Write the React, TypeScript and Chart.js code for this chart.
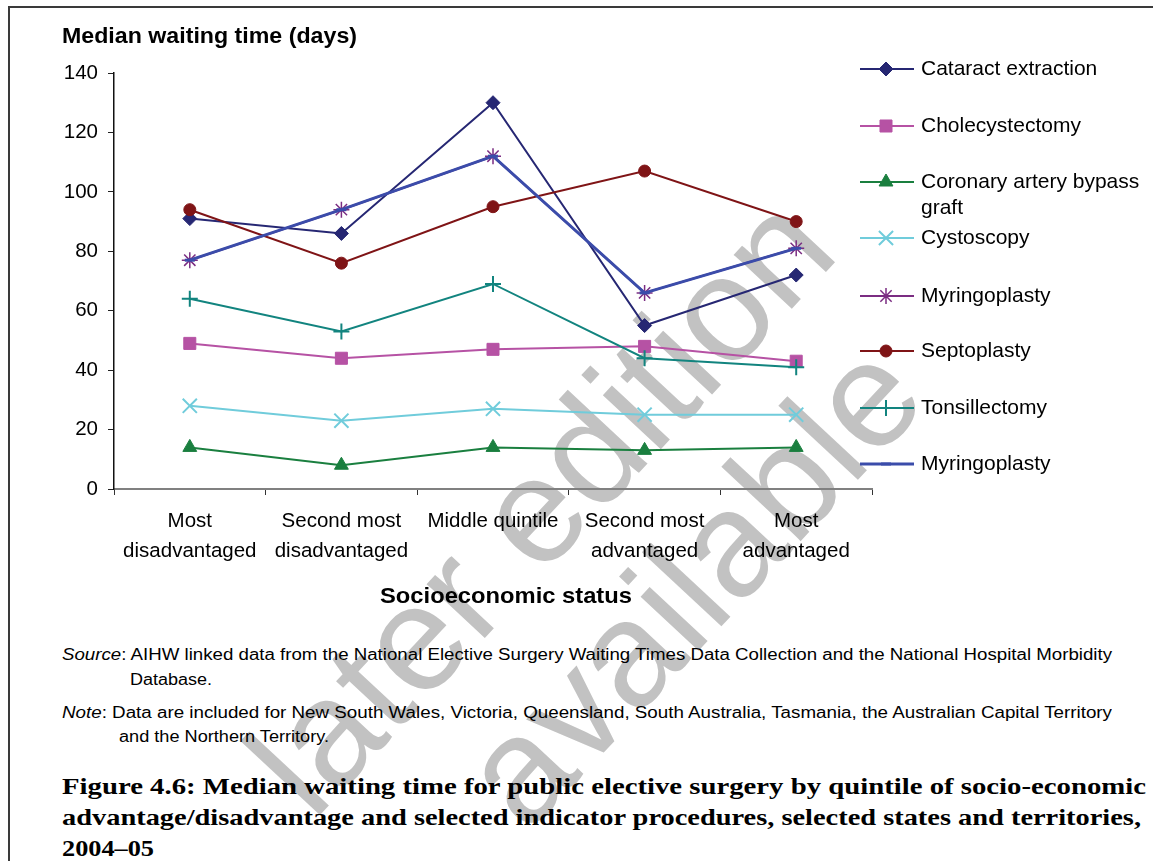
import React, { useEffect, useLayoutEffect, useRef } from 'react';
import { Chart, registerables } from 'chart.js';
import { drawPoint } from 'chart.js/helpers';

Chart.register(...registerables);

// ---------------- data ----------------
const categories: (string | string[])[] = [
  ['Most', 'disadvantaged'],
  ['Second most', 'disadvantaged'],
  'Middle quintile',
  ['Second most', 'advantaged'],
  ['Most', 'advantaged'],
];

const seriesNames = [
  'Cataract extraction',
  'Cholecystectomy',
  'Coronary artery bypass graft',
  'Cystoscopy',
  'Myringoplasty',
  'Septoplasty',
  'Tonsillectomy',
  'Myringoplasty',
];

const cataractExtraction = [91, 86, 130, 55, 72];
const cholecystectomy = [49, 44, 47, 48, 43];
const coronaryBypass = [14, 8, 14, 13, 14];
const cystoscopy = [28, 23, 27, 25, 25];
const myringoplasty = [77, 94, 112, 66, 81];
const septoplasty = [94, 76, 95, 107, 90];
const tonsillectomy = [64, 53, 69, 44, 41];
const myringoplasty2 = [77, 94, 112, 66, 81];

const yTicks = [0, 20, 40, 60, 80, 100, 120, 140];

const yTitle = 'Median waiting time (days)';
const xTitle = 'Socioeconomic status';

// ---------------- styles ----------------
const SANS = 'Arial, "Liberation Sans", sans-serif';
const SERIF = '"Liberation Serif", "Times New Roman", serif';

const seriesStyles = [
  { color: '#262773', pointStyle: 'rectRot', radius: 7, pbw: 1, lw: 2 },
  { color: '#B652A4', pointStyle: 'rect', radius: 8.5, pbw: 1, lw: 2 },
  { color: '#1A7F3F', pointStyle: 'triangle', radius: 8, pbw: 1, lw: 2 },
  { color: '#70CCDB', pointStyle: 'crossRot', radius: 10, pbw: 2, lw: 2 },
  { color: '#7B2D82', pointStyle: 'star', radius: 8, pbw: 1.5, lw: 2 },
  { color: '#7F1416', pointStyle: 'circle', radius: 6, pbw: 1, lw: 2 },
  { color: '#12847F', pointStyle: 'cross', radius: 8, pbw: 2, lw: 2 },
  { color: '#3B4CAA', pointStyle: 'line', radius: 5, pbw: 3, lw: 3 },
];

const seriesData = [
  cataractExtraction,
  cholecystectomy,
  coronaryBypass,
  cystoscopy,
  myringoplasty,
  septoplasty,
  tonsillectomy,
  myringoplasty2,
];

// legend layout (pixels in canvas)
const LEG_LINE_X0 = 860;
const LEG_LINE_X1 = 914;
const LEG_MARK_X = 886;
const LEG_TEXT_X = 921;
const LEG_ROWS = [69, 126, 182, 238, 296, 351, 408, 464];
const LEG_MAXW = 228;

const sideLegend = {
  id: 'sideLegend',
  afterDraw(chart: any) {
    const ctx = chart.ctx as CanvasRenderingContext2D;
    chart.data.datasets.forEach((ds: any, i: number) => {
      const y = LEG_ROWS[i];
      ctx.save();
      ctx.strokeStyle = ds.borderColor;
      ctx.lineWidth = ds.borderWidth;
      ctx.beginPath();
      ctx.moveTo(LEG_LINE_X0, y);
      ctx.lineTo(LEG_LINE_X1, y);
      ctx.stroke();
      ctx.fillStyle = ds.pointBackgroundColor;
      ctx.strokeStyle = ds.pointBorderColor;
      ctx.lineWidth = ds.pointBorderWidth;
      drawPoint(
        ctx,
        { pointStyle: ds.pointStyle, radius: ds.pointRadius, rotation: 0, borderWidth: ds.pointBorderWidth } as any,
        LEG_MARK_X,
        y
      );
      ctx.fillStyle = '#000';
      ctx.font = `21px ${SANS}`;
      ctx.textBaseline = 'middle';
      ctx.textAlign = 'left';
      // simple word wrap
      const words = String(ds.label).split(' ');
      const lines: string[] = [];
      let cur = '';
      words.forEach((w) => {
        const t = cur ? cur + ' ' + w : w;
        if (ctx.measureText(t).width > LEG_MAXW && cur) {
          lines.push(cur);
          cur = w;
        } else cur = t;
      });
      if (cur) lines.push(cur);
      lines.forEach((ln, k) => ctx.fillText(ln, LEG_TEXT_X, y + k * 26));
      ctx.restore();
    });
  },
};

function FitText(props: { x: number; y: number; w: number; size: number; family: string; weight?: string; ls?: number; children: any }) {
  const ref = useRef<HTMLSpanElement>(null);
  useLayoutEffect(() => {
    const el = ref.current;
    if (!el) return;
    el.style.transform = 'none';
    const nat = el.getBoundingClientRect().width;
    if (nat > 0) el.style.transform = `scaleX(${props.w / nat})`;
  }, [props.w]);
  // y is the text baseline
  return (
    <span
      ref={ref}
      style={{
        position: 'absolute',
        left: props.x,
        top: props.y - 0.8465 * props.size,
        whiteSpace: 'nowrap',
        transformOrigin: '0 50%',
        lineHeight: 1,
        fontSize: props.size,
        fontFamily: props.family,
        fontWeight: (props.weight as any) || 'normal',
        letterSpacing: props.ls ? props.ls : undefined,
        color: '#000',
      }}
    >
      {props.children}
    </span>
  );
}

function ChartCanvas() {
  const ref = useRef<HTMLCanvasElement>(null);
  useEffect(() => {
    if (!ref.current) return;
    const n = seriesData.length;
    const chart = new Chart(ref.current, {
      type: 'line',
      data: {
        labels: categories as any,
        datasets: seriesData.map((d, i) => {
          const s = seriesStyles[i];
          return {
            label: seriesNames[i],
            data: d,
            borderColor: s.color,
            backgroundColor: s.color,
            borderWidth: s.lw,
            pointStyle: s.pointStyle as any,
            pointRadius: s.radius,
            pointHoverRadius: s.radius,
            pointBackgroundColor: s.color,
            pointBorderColor: s.color,
            pointBorderWidth: s.pbw,
            tension: 0,
            fill: false,
            order: n - i,
          } as any;
        }),
      },
      options: {
        responsive: false,
        animation: false,
        events: [],
        layout: { padding: { left: 0, top: 73, right: 281, bottom: 31 } },
        plugins: {
          legend: { display: false },
          title: { display: false },
          tooltip: { enabled: false },
        },
        scales: {
          x: {
            type: 'category',
            offset: true,
            grid: {
              offset: true,
              drawOnChartArea: false,
              drawTicks: true,
              tickLength: 6,
              color: '#333',
              lineWidth: 1,
            },
            border: { display: true, color: '#808080', width: 2 },
            ticks: {
              autoSkip: false,
              maxRotation: 0,
              minRotation: 0,
              padding: 11,
              color: '#000',
              font: { family: SANS, size: 20.5, lineHeight: '30px' as any },
            },
            afterFit: (s: any) => {
              s.height = 100;
            },
          },
          y: {
            min: yTicks[0],
            max: yTicks[yTicks.length - 1],
            grid: {
              drawOnChartArea: false,
              drawTicks: true,
              tickLength: 6,
              color: '#222',
              lineWidth: 1,
            },
            border: { display: true, color: '#111', width: 1.5 },
            ticks: {
              stepSize: yTicks[1] - yTicks[0],
              padding: 10,
              color: '#000',
              font: { family: SANS, size: 20.5 },
            },
            afterFit: (s: any) => {
              s.width = 114;
            },
          },
        },
      },
      plugins: [sideLegend],
    });
    return () => chart.destroy();
  }, []);
  return (
    <canvas
      ref={ref}
      width={1153}
      height={620}
      style={{ position: 'absolute', left: 0, top: 0, width: 1153, height: 620 }}
    />
  );
}

export default function App() {
  return (
    <div
      style={{
        position: 'fixed',
        left: 0,
        top: 0,
        width: 1153,
        height: 861,
        overflow: 'hidden',
        background: '#fff',
      }}
    >
      {/* frame */}
      <div
        style={{
          position: 'absolute',
          left: 8,
          top: 6,
          width: 1200,
          height: 1000,
          borderLeft: '2px solid #3a3a3a',
          borderTop: '2px solid #3a3a3a',
        }}
      />
      {/* watermark */}
      <div
        style={{
          position: 'absolute',
          left: 600 - 600,
          top: 560 - 170,
          width: 1200,
          height: 340,
          display: 'flex',
          flexDirection: 'column',
          alignItems: 'center',
          justifyContent: 'center',
          transform: 'rotate(-47deg)',
          fontFamily: SANS,
          fontSize: 150,
          lineHeight: '165px',
          color: '#c2c2c2',
          whiteSpace: 'nowrap',
        }}
      >
        <div>later edition</div>
        <div style={{ paddingLeft: 90 }}>available</div>
      </div>

      <ChartCanvas />

      <FitText x={62} y={44} w={295} size={22} family={SANS} weight="bold">
        {yTitle}
      </FitText>
      <FitText x={380} y={604} w={252} size={22} family={SANS} weight="bold">
        {xTitle}
      </FitText>

      <FitText x={62} y={661} w={1050} size={16} family={SANS}>
        <i>Source</i>: AIHW linked data from the National Elective Surgery Waiting Times Data Collection and the National Hospital Morbidity
      </FitText>
      <FitText x={130} y={686} w={82} size={16} family={SANS}>
        Database.
      </FitText>
      <FitText x={62} y={719} w={1050} size={16} family={SANS}>
        <i>Note</i>: Data are included for New South Wales, Victoria, Queensland, South Australia, Tasmania, the Australian Capital Territory
      </FitText>
      <FitText x={119} y={743} w={210} size={16} family={SANS}>
        and the Northern Territory.
      </FitText>

      <FitText x={62} y={794} w={1084} size={24} family={SERIF} weight="bold">
        Figure 4.6: Median waiting time for public elective surgery by quintile of socio-economic
      </FitText>
      <FitText x={62} y={825} w={1079} size={24} family={SERIF} weight="bold">
        advantage/disadvantage and selected indicator procedures, selected states and territories,
      </FitText>
      <FitText x={62} y={856} w={92} size={24} family={SERIF} weight="bold">
        2004–05
      </FitText>
    </div>
  );
}
